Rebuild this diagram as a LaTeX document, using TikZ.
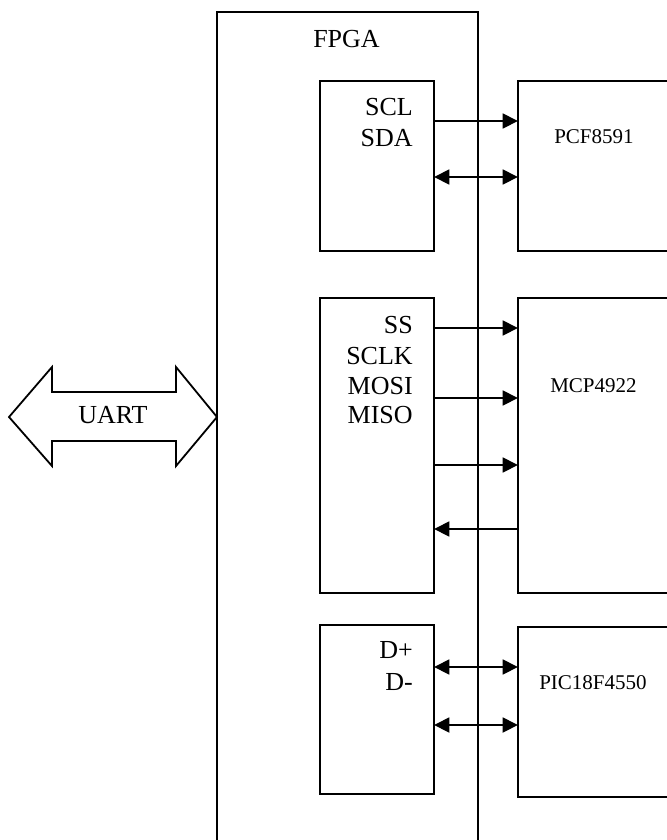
\documentclass[tikz,border=0pt]{standalone}
\usepackage{fontspec}
\setmainfont{Liberation Serif}
\usetikzlibrary{arrows.meta,fit}
\begin{document}
\begin{tikzpicture}[x=0.75pt,y=-0.75pt,
  box/.style={draw,line width=1.35pt,inner sep=0pt,outer sep=0pt},
  big/.style={font=\fontsize{19.5}{22}\selectfont,inner sep=0pt},
  small/.style={font=\fontsize{15.75}{18}\selectfont,inner sep=0pt},
  sig/.style={line width=2.1pt,-{Triangle[length=11.5pt,width=11pt]}},
  bidir/.style={line width=2.1pt,{Triangle[length=11.5pt,width=11pt]}-{Triangle[length=11.5pt,width=11pt]}}
]
\useasboundingbox (0,0) rectangle (667,840);
\clip (0,0) rectangle (667,840);
% boxes
\node[box,fit={(217,12)(478,870)}] (fpga) {};
\node[box,fit={(320,81)(434,251)}] (i2c) {};
\node[box,fit={(518,81)(700,251)}] (pcf) {};
\node[box,fit={(320,298)(434,593)}] (spi) {};
\node[box,fit={(518,298)(700,593)}] (mcp) {};
\node[box,fit={(320,625)(434,794)}] (usb) {};
\node[box,fit={(518,627)(700,797)}] (pic) {};
% UART double arrow
\coordinate (utip) at (fpga.west |- 0,417);
\draw[line width=1.35pt,line join=miter] (9,417) -- (52,367) -- (52,392) -- (176,392) -- (176,367) -- (utip) -- (176,466) -- (176,441) -- (52,441) -- (52,466) -- cycle;
% texts
\node[big,anchor=base west] (tfpga) at (313,47) {FPGA};
\node[big,anchor=base west] (tuart) at (78,423) {UART};
\node[big,anchor=base east] (tscl) at (413,115) {SCL};
\node[big,anchor=base east] (tsda) at (413,146) {SDA};
\node[big,anchor=base east] (tss) at (413,333) {SS};
\node[big,anchor=base east] (tsclk) at (413,364) {SCLK};
\node[big,anchor=base east] (tmosi) at (413,394) {MOSI};
\node[big,anchor=base east] (tmiso) at (413,423) {MISO};
\node[big,anchor=base east] (tdp) at (413,658) {D+};
\node[big,anchor=base east] (tdm) at (413,690) {D-};
\node[small,anchor=base west] (tpcf) at (554,143) {PCF8591};
\node[small,anchor=base west] (tmcp) at (550,392) {MCP4922};
\node[small,anchor=base west] (tpic) at (539,689) {PIC18F4550};
% connectors
\draw[sig] (i2c.east |- 0,121) -- (pcf.west |- 0,121);
\draw[bidir] (i2c.east |- 0,177) -- (pcf.west |- 0,177);
\draw[sig] (spi.east |- 0,328) -- (mcp.west |- 0,328);
\draw[sig] (spi.east |- 0,398) -- (mcp.west |- 0,398);
\draw[sig] (spi.east |- 0,465) -- (mcp.west |- 0,465);
\draw[sig] (mcp.west |- 0,529) -- (spi.east |- 0,529);
\draw[bidir] (usb.east |- 0,667) -- (pic.west |- 0,667);
\draw[bidir] (usb.east |- 0,725) -- (pic.west |- 0,725);
\end{tikzpicture}
\end{document}
